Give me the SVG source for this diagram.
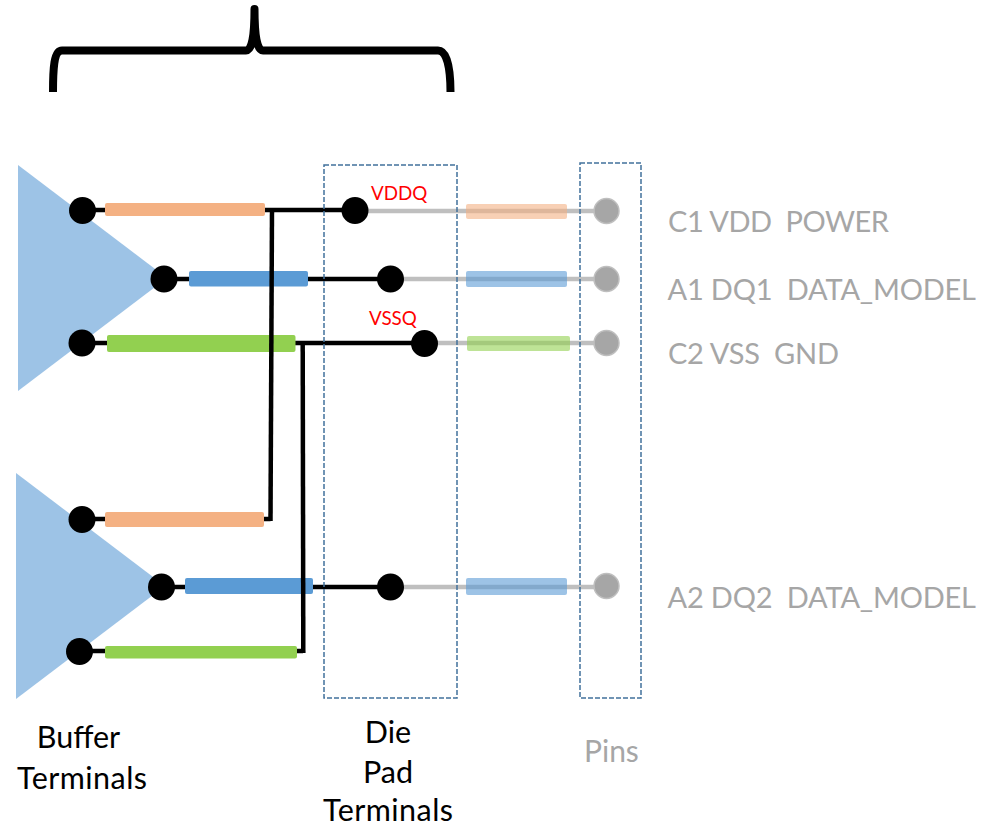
<svg xmlns="http://www.w3.org/2000/svg" width="982" height="826" viewBox="0 0 982 826">
<style>
text{font-family:Lato,"Liberation Sans",Arial,sans-serif;white-space:pre}
.tri{fill:#9dc3e6}
.dot{fill:#000}
.pin{fill:#a6a6a6;stroke:#bfbfbf;stroke-width:1.5}
.w{fill:none;stroke:#000;stroke-width:4.500}
.g{fill:none;stroke:#bfbfbf;stroke-width:4.500}
.or{fill:#f4b183}.bl{fill:#5b9bd5}.gr{fill:#92d050}
.ghost{opacity:.6}
.box{fill:none;stroke:#41719c;stroke-width:1.500;stroke-dasharray:5 2}
.blk{font-size:30.500px;fill:#000;text-anchor:middle}
.gry{font-size:29px;fill:#a6a6a6}
.red{font-size:18.800px;fill:#f00}
</style>
<rect width="982" height="826" fill="#fff"/>
<path id="brace" d="M53 92C53 68 54 50.500 62 50.500H246C252 50.500 254.500 36 254.500 9C254.500 36 257 50.500 263 50.500H438C447 50.500 450.500 68 450.500 92" fill="none" stroke="#000" stroke-width="8" stroke-linejoin="round"/>
<g id="buffer1"><polygon class="tri" points="18,165 18,391 167,278"/></g>
<g id="buffer2"><polygon class="tri" points="16,473 16,699 165,586"/></g>
<g id="connectors">
<path class="g" d="M355 211H606M390 279H606M425 343H606M390 587H606"/>
<path class="w" d="M83 210H355M164 279H390M82 343H425M82 519H270.500M162 587H390M80 651H303"/>
</g>
<g id="bars">
<rect class="or" x="105" y="203" width="160" height="13" rx="2"/>
<rect class="bl" x="189" y="271" width="119" height="15.500" rx="2"/>
<rect class="gr" x="107" y="335" width="188.500" height="17" rx="2"/>
<rect class="or" x="105" y="512" width="159" height="15" rx="2"/>
<rect class="bl" x="185" y="578" width="128" height="16" rx="2"/>
<rect class="gr" x="105" y="646" width="192" height="12.500" rx="2"/>
<rect class="or ghost" x="466" y="204" width="101" height="15" rx="2"/>
<rect class="bl ghost" x="466" y="271" width="101" height="16" rx="2"/>
<rect class="gr ghost" x="467" y="336" width="103" height="15" rx="2"/>
<rect class="bl ghost" x="466" y="578" width="101" height="17" rx="2"/>
</g>
<path id="rail-power" class="w" d="M272 208L270.500 521"/>
<path id="rail-ground" class="w" d="M302.700 341L303.300 653"/>
<g id="buffer-terminals">
<circle class="dot" cx="82.500" cy="210.500" r="13.500"/><circle class="dot" cx="164" cy="279" r="13.500"/><circle class="dot" cx="82" cy="343" r="13.500"/>
<circle class="dot" cx="82" cy="519.500" r="13.500"/><circle class="dot" cx="161.500" cy="587" r="13.500"/><circle class="dot" cx="79.500" cy="651.500" r="13.500"/>
</g>
<g id="die-pad-terminals">
<circle class="dot" cx="355" cy="210.500" r="13.500"/><circle class="dot" cx="390.500" cy="279" r="13.500"/><circle class="dot" cx="424.500" cy="343.500" r="13.500"/><circle class="dot" cx="390.500" cy="587" r="13.500"/>
</g>
<g id="pins">
<circle class="pin" cx="606.500" cy="211" r="12.500"/><circle class="pin" cx="606.500" cy="279" r="12.500"/><circle class="pin" cx="606.500" cy="343" r="12.500"/><circle class="pin" cx="606.500" cy="586" r="12.500"/>
</g>
<rect id="die-box" class="box" x="324" y="165" width="133" height="533"/>
<rect id="pin-box" class="box" x="580" y="163" width="61" height="535"/>
<text class="red" x="371" y="200">VDDQ</text>
<text class="red" x="369" y="325">VSSQ</text>
<text class="gry" x="668" y="232" textLength="221">C1 VDD  POWER</text>
<text class="gry" x="667.500" y="300" textLength="308.500">A1 DQ1  DATA_MODEL</text>
<text class="gry" x="668" y="364" textLength="171">C2 VSS  GND</text>
<text class="gry" x="667.500" y="608" textLength="308.500">A2 DQ2  DATA_MODEL</text>
<text class="blk" x="78.500" y="748">Buffer</text>
<text class="blk" x="82" y="789" textLength="130">Terminals</text>
<text class="blk" x="388" y="743">Die</text>
<text class="blk" x="388" y="783">Pad</text>
<text class="blk" x="388" y="821" textLength="130">Terminals</text>
<text class="gry" x="584" y="762" style="font-size:30px">Pins</text>
</svg>
